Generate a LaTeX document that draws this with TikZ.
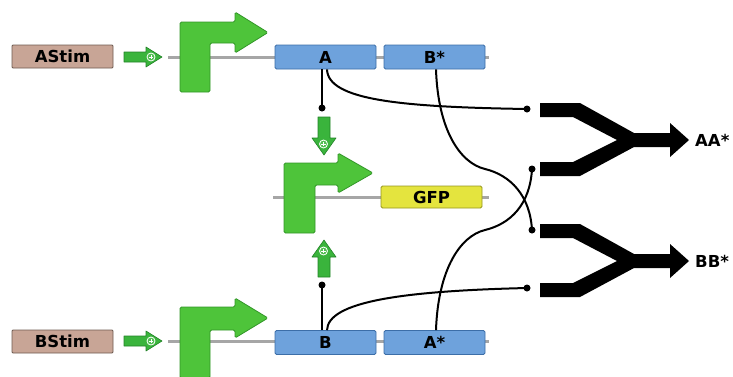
\documentclass[tikz,border=0pt]{standalone}
\usepackage{fontspec}
\setmainfont{DejaVu Sans}
\begin{document}
\begin{tikzpicture}[x=1pt,y=-1pt,
  every node/.style={font=\bfseries\fontsize{16.5}{18}\selectfont, inner sep=0pt},
  stimbox/.style={draw={rgb,255:red,110;green,90;blue,80}, line width=0.8pt, fill={rgb,255:red,200;green,165;blue,150}, minimum width=101pt, minimum height=23pt, rounded corners=1pt},
  genebox/.style={draw={rgb,255:red,60;green,110;blue,168}, line width=0.8pt, fill={rgb,255:red,110;green,162;blue,220}, minimum width=101pt, minimum height=24pt, rounded corners=1.5pt},
  gfpbox/.style={draw={rgb,255:red,150;green,150;blue,30}, line width=0.8pt, fill={rgb,255:red,228;green,228;blue,62}, minimum width=101pt, minimum height=22pt, rounded corners=1.5pt},
  backbone/.style={draw={rgb,255:red,166;green,166;blue,166}, line width=3pt},
  promoter/.style={fill={rgb,255:red,78;green,196;blue,58}, draw={rgb,255:red,50;green,150;blue,40}, line width=0.8pt, rounded corners=1.5pt},
  smallarrow/.style={fill={rgb,255:red,58;green,180;blue,60}, draw={rgb,255:red,35;green,130;blue,40}, line width=0.6pt, line join=round},
  plusring/.style={circle, draw=white, line width=0.8pt, fill={rgb,255:red,80;green,190;blue,80}, minimum size=8pt},
  link/.style={draw=black, line width=2pt},
  dotc/.style={fill=black},
  complex/.style={fill=black},
  label/.style={anchor=west}
]
\useasboundingbox (0,0) rectangle (733,376);

% backbones
\draw[backbone] (168,57) -- (489,57);
\draw[backbone] (273,197) -- (489,197);
\draw[backbone] (168,341) -- (489,341);

% stimulus boxes
\node[stimbox] (astim) at (62.5,56.5) {AStim};
\node[stimbox] (bstim) at (62.5,341.5) {BStim};

% small activation arrows from stimuli
\path[smallarrow] (124,52) -- (146,52) -- (146,47) -- (162,57) -- (146,67) -- (146,62) -- (124,62) -- cycle;
\node[plusring] (pa) at (151,57) {};
\draw[white, line width=0.8pt] (148.8,57) -- (153.2,57) (151,54.8) -- (151,59.2);
\path[smallarrow] (124,336) -- (146,336) -- (146,331) -- (162,341) -- (146,351) -- (146,346) -- (124,346) -- cycle;
\node[plusring] (pb) at (151,341) {};
\draw[white, line width=0.8pt] (148.8,341) -- (153.2,341) (151,338.8) -- (151,343.2);

% promoters
\path[promoter] (180,92) -- (180,22) -- (235,22) -- (235,12) -- (268,32.5) -- (235,53) -- (235,43) -- (210,43) -- (210,92) -- cycle;
\path[promoter] (284,233) -- (284,163) -- (338,163) -- (338,153) -- (373,173) -- (338,193) -- (338,185) -- (315,185) -- (315,233) -- cycle;
\path[promoter] (180,378) -- (180,307) -- (235,307) -- (235,298) -- (268,318) -- (235,338) -- (235,330) -- (210,330) -- (210,378) -- cycle;

% genes
\node[genebox] (A) at (325.5,57) {A};
\node[genebox] (Bs) at (434.5,57) {B*};
\node[gfpbox] (gfp) at (431.5,197) {GFP};
\node[genebox] (B) at (325.5,342.5) {B};
\node[genebox] (As) at (434.5,342.5) {A*};

% activation arrows onto GFP promoter
\path[smallarrow] (318,117) -- (330,117) -- (330,138) -- (336,138) -- (324,155) -- (312,138) -- (318,138) -- cycle;
\node[plusring] (pd) at (323.5,144) {};
\draw[white, line width=0.8pt] (321.3,144) -- (325.7,144) (323.5,141.8) -- (323.5,146.2);
\path[smallarrow] (318,277) -- (330,277) -- (330,257) -- (336,257) -- (324,240) -- (312,257) -- (318,257) -- cycle;
\node[plusring] (pu) at (323.5,251) {};
\draw[white, line width=0.8pt] (321.3,251) -- (325.7,251) (323.5,248.8) -- (323.5,253.2);

% dimerisation complexes
\path[complex] (540,103) -- (580,103) -- (634,133) -- (670,133) -- (670,123) -- (689,140) -- (670,157) -- (670,147) -- (634,147) -- (580,176) -- (540,176) -- (540,162) -- (573,162) -- (617,140) -- (573,117) -- (540,117) -- cycle;
\path[complex] (540,224) -- (580,224) -- (634,254) -- (670,254) -- (670,244) -- (689,261) -- (670,278) -- (670,268) -- (634,268) -- (580,297) -- (540,297) -- (540,283) -- (573,283) -- (617,261) -- (573,238) -- (540,238) -- cycle;
\node[label] (aa) at (695,140) {AA*};
\node[label] (bb) at (695,261) {BB*};

% connector end points
\coordinate (dA) at (322,108);
\coordinate (dB) at (322,285);
\coordinate (d1) at (527,109);
\coordinate (d2) at (532,169);
\coordinate (d3) at (532,230);
\coordinate (d4) at (527,288);

% connectors
\draw[link] ([xshift=-3.5pt]A.south) -- (dA);
\draw[link] ([xshift=-3.5pt]B.north) -- (dB);
\draw[link] ([xshift=1.5pt]A.south) .. controls (328,100) and (400,107) .. (d1);
\draw[link] ([xshift=1.5pt]B.north) .. controls (328,302) and (400,291) .. (d4);
\draw[link] ([xshift=1.5pt]Bs.south) .. controls (438,130) and (460,163) .. (485,169) .. controls (510,175) and (530,195) .. (d3);
\draw[link] ([xshift=1.5pt]As.north) .. controls (438,270) and (460,236) .. (485,230) .. controls (510,224) and (530,205) .. (d2);
\foreach \d in {dA,dB,d1,d2,d3,d4} \fill[dotc] (\d) circle (3.5pt);
\end{tikzpicture}
\end{document}
